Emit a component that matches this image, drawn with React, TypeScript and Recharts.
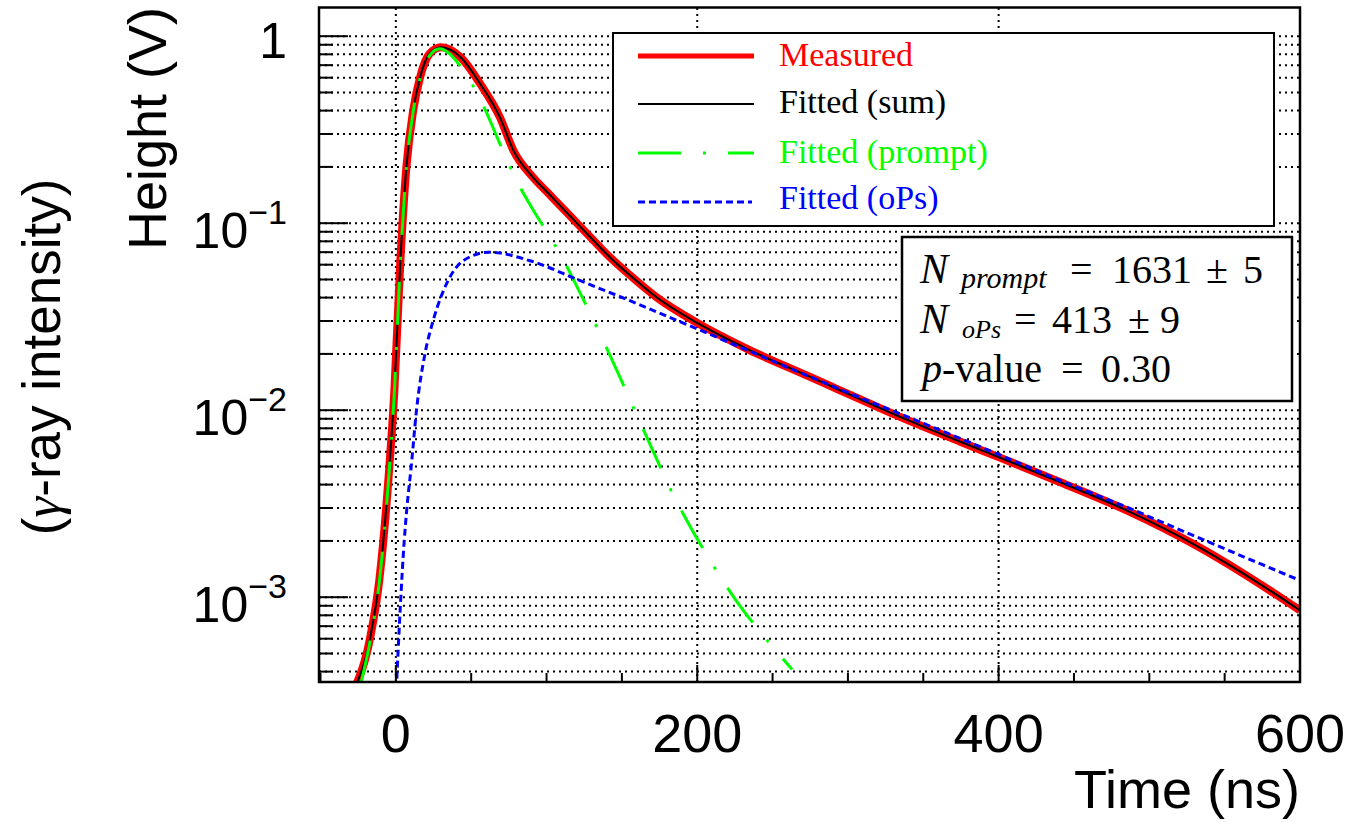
import { LineChart, Line, XAxis, YAxis, CartesianGrid } from "recharts"

// values (time in ns, height in V)
const measuredTime = [-27, -17, -11, -5, -1, 3, 7, 11.5, 16, 22.5, 30, 43, 56, 69, 78, 91, 101, 113, 122, 135.5, 142, 155, 173, 200, 233, 273, 290, 335, 375, 400, 441, 485, 529, 563, 600]
const measuredHeight = [3.3e-4, 6.1e-4, 1.23e-3, 4.2e-3, 0.0127, 0.063, 0.2, 0.4, 0.6, 0.808, 0.873, 0.772, 0.556, 0.369, 0.245, 0.176, 0.145, 0.115, 0.0965, 0.0744, 0.0658, 0.053, 0.0402, 0.0293, 0.0213, 0.0153, 0.0133, 0.00918, 0.00676, 0.00561, 0.00412, 0.00291, 0.00193, 0.00133, 8.5e-4]

const sumTime = [-27, -17, -11, -5, -1, 3, 7, 11.5, 16, 22.5, 30, 43, 56, 69, 78, 91, 101, 113, 122, 135.5, 142, 155, 173, 200, 233, 273, 290, 335, 375, 400, 441, 485, 529, 563, 600]
const sumHeight = [3.3e-4, 6.1e-4, 1.23e-3, 4.2e-3, 0.0127, 0.063, 0.2, 0.4, 0.6, 0.808, 0.873, 0.772, 0.556, 0.369, 0.245, 0.176, 0.145, 0.115, 0.0965, 0.0744, 0.0658, 0.053, 0.0402, 0.0293, 0.0213, 0.0153, 0.0133, 0.00918, 0.00676, 0.00561, 0.00412, 0.00291, 0.00193, 0.00133, 8.5e-4]

const promptTime = [-23, -17, -11, -5, -1, 3, 7, 11.5, 16, 22.5, 29, 42.5, 59, 70, 79, 92, 101, 109, 122, 135.5, 147.6, 160, 172, 181, 193, 211, 225, 245, 263]
const promptHeight = [3.5e-4, 5.9e-4, 1.2e-3, 4.1e-3, 0.0125, 0.062, 0.197, 0.395, 0.59, 0.79, 0.857, 0.697, 0.409, 0.255, 0.176, 0.1145, 0.0878, 0.0686, 0.0428, 0.0256, 0.0157, 0.00937, 0.00573, 0.00396, 0.00258, 0.00146, 9.8e-4, 6.07e-4, 4.11e-4]

const opsTime = [0.3, 3, 5.5, 7, 10.4, 13.7, 19.3, 24.8, 34.7, 44.7, 62, 89, 122, 155, 200, 273, 400, 441, 485, 529, 563, 600]
const opsHeight = [3.2e-4, 9e-4, 1.97e-3, 2.8e-3, 5.2e-3, 0.01, 0.02, 0.0302, 0.0494, 0.063, 0.07, 0.063, 0.0494, 0.0386, 0.0272, 0.0153, 0.0058, 0.0042, 0.00303, 0.00214, 0.00164, 0.00123]

const timeTicks = [-50, 0, 50, 100, 150, 200, 250, 300, 350, 400, 450, 500, 550, 600]
const timeLabels = [0, 200, 400, 600]
const timeGrid = [0, 200, 400]

const heightTicks = [
  0.0004, 0.0005, 0.0006, 0.0007, 0.0008, 0.0009,
  0.001, 0.002, 0.003, 0.004, 0.005, 0.006, 0.007, 0.008, 0.009,
  0.01, 0.02, 0.03, 0.04, 0.05, 0.06, 0.07, 0.08, 0.09,
  0.1, 0.2, 0.3, 0.4, 0.5, 0.6, 0.7, 0.8, 0.9,
  1,
]
const decades = [1, 0.1, 0.01, 0.001]
const decadeExp = ["", "\u22121", "\u22122", "\u22123"]

const SANS = "'Liberation Sans', Arial, Helvetica, sans-serif"
const SERIF = "'Liberation Serif', 'Times New Roman', serif"

const toPoints = (ts: number[], vs: number[]) => ts.map((t, i) => ({ t, v: vs[i] }))

const HeightTick = (props: any) => {
  const { x, y, payload } = props
  const i = decades.indexOf(payload.value)
  const major = i >= 0
  return (
    <g>
      <line x1={x} x2={x + (major ? 29 : 14)} y1={y} y2={y} stroke="#000" strokeWidth={2} />
      {major && i === 0 && (
        <text x={287} y={y + 22} textAnchor="end" fontFamily={SANS} fontSize={50} fill="#000">1</text>
      )}
      {major && i > 0 && (
        <text x={287} y={y + 25} textAnchor="end" fontFamily={SANS} fontSize={50} fill="#000">
          10
          <tspan dy={-24} fontSize={34}>{decadeExp[i]}</tspan>
        </text>
      )}
    </g>
  )
}

const TimeTick = (props: any) => {
  const { x, y, payload } = props
  const major = timeLabels.includes(payload.value)
  return (
    <g>
      <line x1={x} x2={x} y1={y} y2={y - (major ? 17 : 9)} stroke="#000" strokeWidth={2} />
      {major && (
        <text x={x} y={y + 70} textAnchor="middle" fontFamily={SANS} fontSize={54} fill="#000">
          {payload.value}
        </text>
      )}
    </g>
  )
}

export default function App() {
  return (
    <div style={{ position: "absolute", left: 0, top: 0, width: 1347, height: 822, background: "#fff" }}>
      <LineChart width={1347} height={822} margin={{ top: 8, right: 47, bottom: 0, left: 0 }}>
        <CartesianGrid
          stroke="#000"
          strokeWidth={2}
          strokeDasharray="2 4"
          horizontalValues={heightTicks}
          verticalValues={timeGrid}
        />
        <XAxis
          dataKey="t"
          type="number"
          domain={[-51, 600]}
          allowDataOverflow
          ticks={timeTicks}
          interval={0}
          height={140}
          tickSize={0}
          tickMargin={0}
          tickLine={false}
          axisLine={false}
          tick={<TimeTick />}
        />
        <YAxis
          type="number"
          scale="log"
          domain={[3.52e-4, 1.415]}
          allowDataOverflow
          ticks={heightTicks}
          interval={0}
          width={319}
          tickSize={0}
          tickMargin={0}
          tickLine={false}
          axisLine={false}
          tick={<HeightTick />}
        />
        <Line data={toPoints(measuredTime, measuredHeight)} dataKey="v" type="monotone" stroke="#ff0000" strokeWidth={8} dot={false} activeDot={false} isAnimationActive={false} />
        <Line data={toPoints(sumTime, sumHeight)} dataKey="v" type="monotone" stroke="#000" strokeWidth={2} dot={false} activeDot={false} isAnimationActive={false} />
        <Line data={toPoints(promptTime, promptHeight)} dataKey="v" type="monotone" stroke="#00ff00" strokeWidth={3} strokeDasharray="43 22 3 22" dot={false} activeDot={false} isAnimationActive={false} />
        <Line data={toPoints(opsTime, opsHeight)} dataKey="v" type="monotone" stroke="#0000ff" strokeWidth={3} strokeDasharray="7 4" dot={false} activeDot={false} isAnimationActive={false} />
      </LineChart>

      <svg width={1347} height={822} style={{ position: "absolute", left: 0, top: 0, pointerEvents: "none" }}>
        <rect x={319} y={7.5} width={981} height={674.5} fill="none" stroke="#000" strokeWidth={2.5} />

        <text x={1300} y={808} textAnchor="end" fontFamily={SANS} fontSize={54} fill="#000">Time (ns)</text>
        <text transform="translate(166,7) rotate(-90)" textAnchor="end" fontFamily={SANS} fontSize={54} fill="#000">Height (V)</text>
        <text transform="translate(60,357) rotate(-90)" textAnchor="middle" fontFamily={SANS} fontSize={53} fill="#000">
          (<tspan fontFamily={SERIF} fontStyle="italic">γ</tspan>-ray intensity)
        </text>

        {/* legend */}
        <rect x={613} y={33} width={661} height={193} fill="#fff" stroke="#000" strokeWidth={2} />
        <line x1={638} x2={754} y1={56} y2={56} stroke="#ff0000" strokeWidth={5} />
        <text x={779} y={66} fontFamily={SERIF} fontSize={34} fill="#ff0000">Measured</text>
        <line x1={638} x2={754} y1={104} y2={104} stroke="#000" strokeWidth={2} />
        <text x={779} y={113} fontFamily={SERIF} fontSize={34} fill="#000">Fitted (sum)</text>
        <line x1={638} x2={754} y1={153} y2={153} stroke="#00ff00" strokeWidth={3} strokeDasharray="43 22 3 22" />
        <text x={779} y={163} fontFamily={SERIF} fontSize={34} fill="#00ff00">Fitted (prompt)</text>
        <line x1={638} x2={752} y1={202} y2={202} stroke="#0000ff" strokeWidth={3} strokeDasharray="7 4" />
        <text x={779} y={209} fontFamily={SERIF} fontSize={34} fill="#0000ff">Fitted (oPs)</text>

        {/* fit results */}
        <rect x={902} y={237} width={390} height={164} fill="#fff" stroke="#000" strokeWidth={2.5} />
        <g fontFamily={SERIF} fill="#000">
          <text x={920} y={283} fontSize={42} fontStyle="italic">N</text>
          <text x={961} y={288} fontSize={30} fontStyle="italic">prompt</text>
          <text x={1070} y={283} fontSize={40}>=</text>
          <text x={1112} y={283} fontSize={40}>1631</text>
          <text x={1206} y={283} fontSize={40}>±</text>
          <text x={1243} y={283} fontSize={40}>5</text>

          <text x={920} y={333} fontSize={42} fontStyle="italic">N</text>
          <text x={962} y={338} fontSize={26} fontStyle="italic">oPs</text>
          <text x={1014} y={333} fontSize={40}>=</text>
          <text x={1052} y={333} fontSize={40}>413</text>
          <text x={1128} y={333} fontSize={40}>±</text>
          <text x={1160} y={333} fontSize={40}>9</text>

          <text x={922} y={382} fontSize={40} fontStyle="italic">p</text>
          <text x={942} y={382} fontSize={40}>-value</text>
          <text x={1061} y={382} fontSize={40}>=</text>
          <text x={1101} y={382} fontSize={40}>0.30</text>
        </g>
      </svg>
    </div>
  )
}
